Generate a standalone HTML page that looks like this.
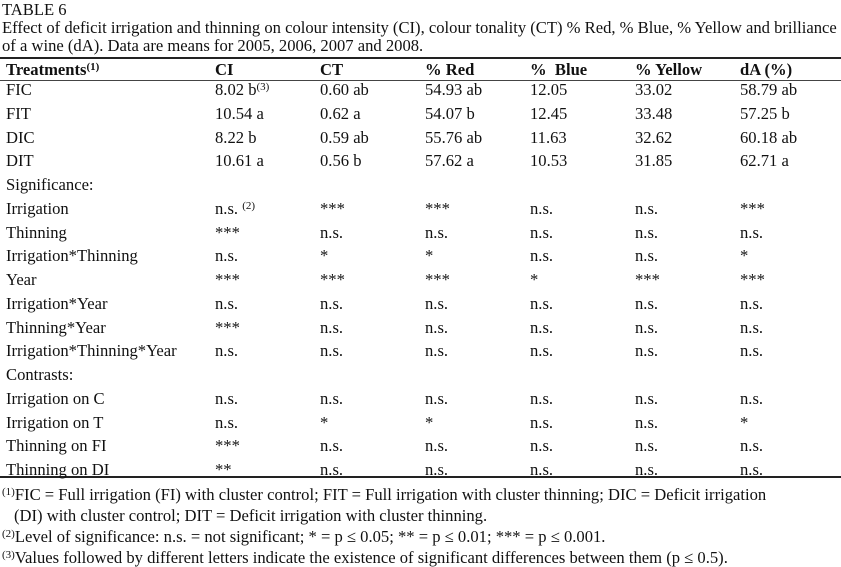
<!DOCTYPE html>
<html><head><meta charset="utf-8">
<style>
body{margin:0;width:841px;height:565px;background:#fff;position:relative;overflow:hidden;font-family:"Liberation Serif",serif;color:#111;font-size:16.6px}
.t{position:absolute;white-space:nowrap;line-height:19px}
.r{position:absolute;left:0;width:841px}
.c{position:absolute;white-space:nowrap;line-height:19px}
sup{font-size:11px;vertical-align:5px;line-height:0}
.hl{position:absolute;left:0;width:841px;background:#222}
b{font-weight:bold}
</style></head><body>
<div class="t" style="left:2px;top:0px">TABLE 6</div>
<div class="t" style="left:2px;top:18px">Effect of deficit irrigation and thinning on colour intensity (CI), colour tonality (CT) % Red, % Blue, % Yellow and brilliance</div>
<div class="t" style="left:2px;top:36px">of a wine (dA). Data are means for 2005, 2006, 2007 and 2008.</div>
<div class="hl" style="top:57px;height:2px"></div>
<div class="hl" style="top:80px;height:1px;background:#444"></div>
<div class="hl" style="top:476px;height:2px"></div>
<div id="tbl"></div>
<div class="t" style="left:2px;top:485px"><sup>(1)</sup>FIC = Full irrigation (FI) with cluster control; FIT = Full irrigation with cluster thinning; DIC = Deficit irrigation</div>
<div class="t" style="left:14px;top:506px">(DI) with cluster control; DIT = Deficit irrigation with cluster thinning.</div>
<div class="t" style="left:2px;top:527px"><sup>(2)</sup>Level of significance: n.s. = not significant; * = p ≤ 0.05; ** = p ≤ 0.01; *** = p ≤ 0.001.</div>
<div class="t" style="left:2px;top:548px"><sup>(3)</sup>Values followed by different letters indicate the existence of significant differences between them (p ≤ 0.5).</div>
<script>
const colX=[6,215,320,425,530,635,740];
const header=['Treatments<sup>(1)</sup>','CI','CT','% Red','%&nbsp; Blue','% Yellow','dA (%)'];
const rows=[
['FIC','8.02 b<sup>(3)</sup>','0.60 ab','54.93 ab','12.05','33.02','58.79 ab'],
['FIT','10.54 a','0.62 a','54.07 b','12.45','33.48','57.25 b'],
['DIC','8.22 b','0.59 ab','55.76 ab','11.63','32.62','60.18 ab'],
['DIT','10.61 a','0.56 b','57.62 a','10.53','31.85','62.71 a'],
['Significance:','','','','','',''],
['Irrigation','n.s. <sup>(2)</sup>','***','***','n.s.','n.s.','***'],
['Thinning','***','n.s.','n.s.','n.s.','n.s.','n.s.'],
['Irrigation*Thinning','n.s.','*','*','n.s.','n.s.','*'],
['Year','***','***','***','*','***','***'],
['Irrigation*Year','n.s.','n.s.','n.s.','n.s.','n.s.','n.s.'],
['Thinning*Year','***','n.s.','n.s.','n.s.','n.s.','n.s.'],
['Irrigation*Thinning*Year','n.s.','n.s.','n.s.','n.s.','n.s.','n.s.'],
['Contrasts:','','','','','',''],
['Irrigation on C','n.s.','n.s.','n.s.','n.s.','n.s.','n.s.'],
['Irrigation on T','n.s.','*','*','n.s.','n.s.','*'],
['Thinning on FI','***','n.s.','n.s.','n.s.','n.s.','n.s.'],
['Thinning on DI','**','n.s.','n.s.','n.s.','n.s.','n.s.']];
const tbl=document.getElementById('tbl');
function addRow(cells,top,bold,name){
  const r=document.createElement('div');r.className='r';r.style.top=top+'px';
  
  
  cells.forEach((t,i)=>{
    const c=document.createElement('div');c.className='c';c.style.left=colX[i]+'px';
    c.innerHTML=bold?'<b>'+t+'</b>':t;
    
    
    r.appendChild(c);
  });
  tbl.appendChild(r);
}
addRow(header,60,true,'header-row');
rows.forEach((row,i)=>addRow(row,80+i*23.75,false,'table-row'));
</script>
</body></html>
